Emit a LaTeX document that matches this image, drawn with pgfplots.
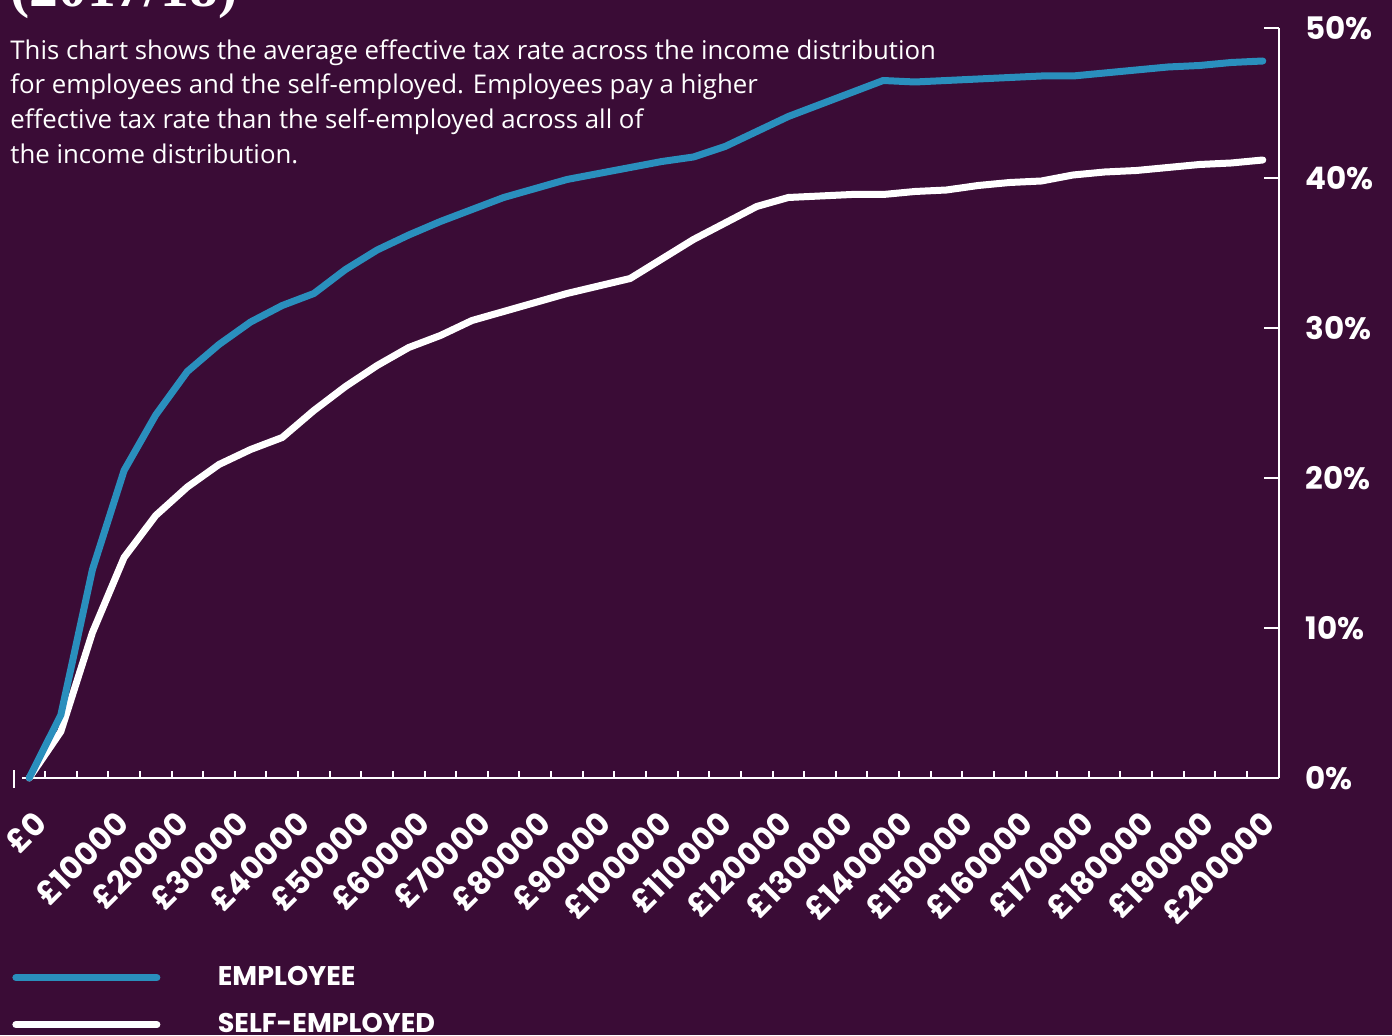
\documentclass[border=0pt]{standalone}
\usepackage{fontspec}
\setmainfont{Open Sans}
\newfontfamily\pop{Poppins}
\newfontfamily\titlefont{Liberation Serif}
\usepackage{pgfplots}
\usepackage{pgfplotstable}
\pgfplotsset{compat=1.18}
\definecolor{bg}{RGB}{58,12,54}
\definecolor{emp}{RGB}{42,143,189}
\pgfplotstableread{
inc emp self
0 0 0
5000 4.2 3.1
10000 13.9 9.7
15000 20.5 14.7
20000 24.2 17.5
25000 27.1 19.4
30000 28.9 20.9
35000 30.4 21.9
40000 31.5 22.7
45000 32.3 24.5
50000 33.9 26.1
55000 35.2 27.5
60000 36.2 28.7
65000 37.1 29.5
70000 37.9 30.5
75000 38.7 31.1
80000 39.3 31.7
85000 39.9 32.3
90000 40.3 32.8
95000 40.7 33.3
100000 41.1 34.6
105000 41.4 35.9
110000 42.1 37.0
115000 43.1 38.1
120000 44.1 38.7
125000 44.9 38.8
130000 45.7 38.9
135000 46.5 38.9
140000 46.4 39.1
145000 46.5 39.2
150000 46.6 39.5
155000 46.7 39.7
160000 46.8 39.8
165000 46.8 40.2
170000 47.0 40.4
175000 47.2 40.5
180000 47.4 40.7
185000 47.5 40.9
190000 47.7 41.0
195000 47.8 41.2
}\datatable
\begin{document}
\begin{tikzpicture}[x=0.5pt,y=0.5pt]
\path[use as bounding box, fill=bg] (0,0) rectangle (1392,1035);
\clip (0,0) rectangle (1392,1035);
\node[anchor=base west, inner sep=0pt, text=white, font=\titlefont\bfseries\fontsize{28.8pt}{30pt}\selectfont] at (10,1028) {(2017/18)};
\node[anchor=north west, inner sep=0pt, align=left, text=white, font=\fontsize{12.9pt}{17.35pt}\selectfont] at (10,996) {This chart shows the average effective tax rate across the income distribution\\for employees and the self-employed. Employees pay a higher\\effective tax rate than the self-employed across all of\\the income distribution.};
\begin{axis}[
  at={(14.6pt,128.5pt)}, anchor=origin,
  scale only axis, width=632.6pt, height=375pt,
  xmin=-2500, xmax=197500, ymin=0, ymax=50,
  axis x line=bottom, axis y line=right,
  axis line style={-},
  x axis line style={draw=none},
  y axis line style={white, line width=1pt},
  clip=false,
  scaled x ticks=false,
  tick align=inside,
  tick style={white, line width=1pt},
  major tick length=7.5pt, minor tick length=3.5pt,
  major x tick style={draw=none},
  xtick={2500,15465,25000,34535,44070,53605,63140,72675,82210,91745,101280,110815,120350,129885,139420,148955,158490,168025,177560,187095,196630},
  xticklabels={£0,£10000,£20000,£30000,£40000,£50000,£60000,£70000,£80000,£90000,£100000,£110000,£120000,£130000,£140000,£150000,£160000,£170000,£180000,£190000,£200000},
  minor xtick={2500,7500,...,192500},
  xticklabel style={rotate=45, anchor=north east, inner sep=0pt, font=\pop\bfseries\fontsize{15.8pt}{15.8pt}\selectfont, text=white, xshift=-15.34pt, yshift=-6.16pt},
  ytick={0,10,20,30,40,50},
  yticklabels={0\%,10\%,20\%,30\%,40\%,50\%},
  yticklabel style={anchor=west, inner sep=0pt, xshift=13.2pt, font=\pop\bfseries\fontsize{15.5pt}{15.5pt}\selectfont, text=white},
  legend style={at={(0,0)}, anchor=north west, xshift=-0.5pt, yshift=-94.25pt, draw=none, fill=none, inner sep=0pt, outer sep=0pt, text=white, font=\pop\bfseries\fontsize{13.5pt}{13.5pt}\selectfont, row sep=12.4pt, nodes={inner sep=0pt}, /tikz/every odd column/.append style={column sep=28.75pt}},
  legend cell align=left,
  legend image code/.code={\draw[#1, line cap=round] (0pt,0pt) -- (70.5pt,0pt);},
]
\draw[white, line width=1pt] (-1140,0) -- (197500,0);
\draw[white, line width=1pt] (-2400,-0.67) -- (-2400,0.53);
\addplot[white, line width=3.5pt, line cap=round, line join=round, forget plot] table[x=inc, y=self] {\datatable};
\addplot[emp, line width=3.5pt, line cap=round, line join=round, forget plot] table[x=inc, y=emp] {\datatable};
\addlegendimage{emp, line width=3.5pt}
\addlegendentry{EMPLOYEE}
\addlegendimage{white, line width=3.5pt}
\addlegendentry{SELF-EMPLOYED}
\end{axis}
\end{tikzpicture}
\end{document}
